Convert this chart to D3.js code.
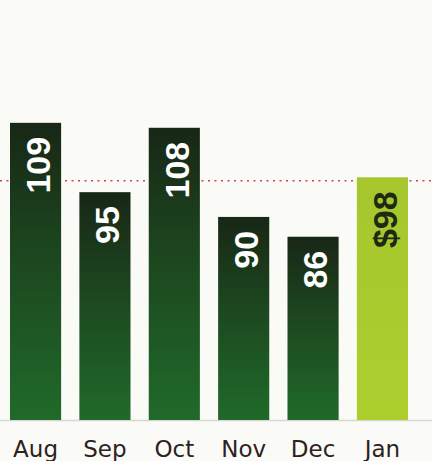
<!DOCTYPE html>
<html><head><meta charset="utf-8">
<script src="https://cdn.jsdelivr.net/npm/d3@7"></script>
<style>html,body{margin:0;padding:0;background:#fafaf6;}svg{display:block;}</style>
</head><body>
<svg id="chart" width="432" height="461"></svg>
<script>
const months = ["Aug", "Sep", "Oct", "Nov", "Dec", "Jan"];
const values = [109, 95, 108, 90, 86, 98];
const labels = ["109", "95", "108", "90", "86", "$98"];
const highlight = [false, false, false, false, false, true];
const referenceValue = 97.3;

const svg = d3.select("#chart");
const W = 432, H = 461;
svg.append("rect").attr("width", W).attr("height", H).attr("fill", "#fafaf6");

const x = d3.scaleBand().domain(months).range([10, 408]).paddingInner(0.263).paddingOuter(0);
const y = d3.scaleLinear().domain([49, 133.8]).range([420, 0]);

const defs = svg.append("defs");
const g1 = defs.append("linearGradient").attr("id", "dark").attr("x1", 0).attr("y1", 0).attr("x2", 0).attr("y2", 1);
g1.append("stop").attr("offset", "0%").attr("stop-color", "#182716");
g1.append("stop").attr("offset", "40%").attr("stop-color", "#1c441e");
g1.append("stop").attr("offset", "100%").attr("stop-color", "#206a2a");
const g2 = defs.append("linearGradient").attr("id", "lime").attr("x1", 0).attr("y1", 0).attr("x2", 0).attr("y2", 1);
g2.append("stop").attr("offset", "0%").attr("stop-color", "#a6c62e");
g2.append("stop").attr("offset", "100%").attr("stop-color", "#adcf2e");

const data = months.map((m, i) => ({ m, v: values[i], label: labels[i], hi: highlight[i] }));

// baseline
svg.append("line").attr("x1", 0).attr("x2", W).attr("y1", y(49) + 0.5).attr("y2", y(49) + 0.5)
  .attr("stroke", "#d6d6d6").attr("stroke-width", 1.5);

// dotted reference line (behind bars)
svg.append("line").attr("x1", 0).attr("x2", W)
  .attr("y1", y(referenceValue)).attr("y2", y(referenceValue))
  .attr("stroke", "#d2405e").attr("stroke-width", 1.5).attr("stroke-dasharray", "2,4.5");

// bars
svg.selectAll("rect.bar").data(data).join("rect").attr("class", "bar")
  .attr("x", d => x(d.m)).attr("width", x.bandwidth())
  .attr("y", d => y(d.v)).attr("height", d => y(49) - y(d.v))
  .attr("fill", d => d.hi ? "url(#lime)" : "url(#dark)");

// value labels (rotated)
svg.selectAll("text.val").data(data).join("text").attr("class", "val")
  .attr("transform", d => `translate(${x(d.m) + x.bandwidth() / 2 + 2},${y(d.v) + 14}) rotate(-90)`)
  .attr("text-anchor", "end").attr("dy", "0.36em")
  .attr("font-family", "Liberation Sans, Arial, sans-serif").attr("font-weight", "bold")
  .attr("font-size", 34)
  .attr("fill", d => d.hi ? "#1c2a12" : "#ffffff")
  .text(d => d.label);

// month axis labels
const axis = d3.axisBottom(x).tickSize(0).tickPadding(0);
const ax = svg.append("g").attr("transform", `translate(0,${y(49)})`).call(axis);
ax.select(".domain").remove();
ax.selectAll("text").attr("y", 37).attr("dy", 0)
  .attr("font-family", "DejaVu Sans, sans-serif").attr("font-size", 23)
  .attr("fill", "#2d2222");
</script>
</body></html>
